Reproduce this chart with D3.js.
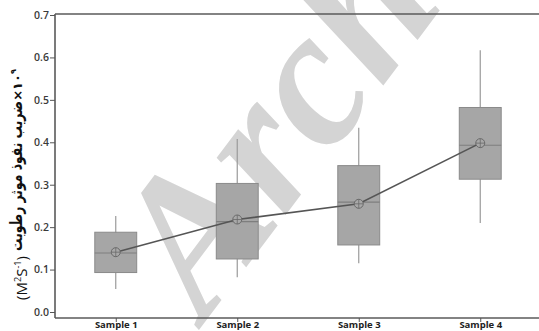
<!DOCTYPE html>
<html>
<head>
<meta charset="utf-8">
<script src="https://cdn.jsdelivr.net/npm/d3@7"></script>
<style>
  body { margin: 0; background: #fff; }
  svg { display: block; }
</style>
</head>
<body>
<div id="chart-area"></div>
<script>
// datos
var categories = ["Sample 1", "Sample 2", "Sample 3", "Sample 4"];
var whiskerLow = [0.054, 0.082, 0.115, 0.210];
var q1 = [0.093, 0.125, 0.158, 0.313];
var medians = [0.139, 0.213, 0.259, 0.393];
var q3 = [0.188, 0.303, 0.345, 0.482];
var whiskerHigh = [0.226, 0.408, 0.434, 0.617];
var means = [0.141, 0.218, 0.255, 0.398];
var yTicks = [0, 0.1, 0.2, 0.3, 0.4, 0.5, 0.6, 0.7];

var data = categories.map(function(c, i) {
    return { cat: c, lo: whiskerLow[i], q1: q1[i], med: medians[i], q3: q3[i], hi: whiskerHigh[i], mean: means[i] };
});

var W = 539, H = 331;
var margin = { top: 14, right: -2, bottom: 13, left: 55 };

var svg = d3.select("#chart-area").append("svg")
    .attr("width", W)
    .attr("height", H);

// marca de agua
svg.append("text")
    .attr("transform", "translate(205,322) rotate(-53)")
    .style("font-family", "'Liberation Serif', serif")
    .style("font-weight", "bold")
    .style("font-style", "italic")
    .style("font-size", "195px")
    .attr("fill", "#d4d4d4")
    .text("Archive");

var x = d3.scalePoint()
    .domain(categories)
    .range([margin.left, W - margin.right])
    .padding(0.5);

var y = d3.scaleLinear()
    .domain([0, 0.7])
    .range([312, 15]);

var boxW = x.step() * 0.345;
var yBottom = H - margin.bottom;

// cajas
var g = svg.append("g");
g.selectAll(".whisker")
    .data(data).enter().append("line")
    .attr("x1", function(d) { return x(d.cat); })
    .attr("x2", function(d) { return x(d.cat); })
    .attr("y1", function(d) { return y(d.lo); })
    .attr("y2", function(d) { return y(d.hi); })
    .attr("stroke", "#9a9a9a")
    .attr("stroke-width", 1.2);

g.selectAll(".box")
    .data(data).enter().append("rect")
    .attr("x", function(d) { return x(d.cat) - boxW / 2; })
    .attr("y", function(d) { return y(d.q3); })
    .attr("width", boxW)
    .attr("height", function(d) { return y(d.q1) - y(d.q3); })
    .attr("fill", "#a6a6a6")
    .attr("stroke", "#8a8a8a")
    .attr("stroke-width", 1);

g.selectAll(".median")
    .data(data).enter().append("line")
    .attr("x1", function(d) { return x(d.cat) - boxW / 2; })
    .attr("x2", function(d) { return x(d.cat) + boxW / 2; })
    .attr("y1", function(d) { return y(d.med); })
    .attr("y2", function(d) { return y(d.med); })
    .attr("stroke", "#7e7e7e")
    .attr("stroke-width", 1.2);

// linea de medias
var line = d3.line()
    .x(function(d) { return x(d.cat); })
    .y(function(d) { return y(d.mean); });

g.append("path")
    .datum(data)
    .attr("d", line)
    .attr("fill", "none")
    .attr("stroke", "#555")
    .attr("stroke-width", 1.6);

var sym = g.selectAll(".mean")
    .data(data).enter().append("g")
    .attr("transform", function(d) { return "translate(" + x(d.cat) + "," + y(d.mean) + ")"; });
sym.append("circle").attr("r", 4.5).attr("fill", "#a8a8a8").attr("stroke", "#6a6a6a").attr("stroke-width", 1);
sym.append("path").attr("d", "M-4.5,0H4.5M0,-4.5V4.5").attr("stroke", "#6a6a6a").attr("stroke-width", 0.8);

// marco
svg.append("line")
    .attr("x1", margin.left).attr("x2", W)
    .attr("y1", margin.top).attr("y2", margin.top)
    .attr("stroke", "#5a5a5a").attr("stroke-width", 1.6);

// ejes
var yAxis = svg.append("g")
    .attr("transform", "translate(" + margin.left + ",0)")
    .call(d3.axisLeft(y).tickValues(yTicks).tickFormat(d3.format(".1f")).tickSize(5).tickSizeOuter(0));
yAxis.select(".domain").attr("d", "M0," + margin.top + "V" + yBottom)
    .attr("stroke", "#5a5a5a").attr("stroke-width", 1.6);
yAxis.selectAll(".tick line").attr("stroke", "#555");
yAxis.selectAll("text")
    .attr("x", -6)
    .attr("fill", "#3a3a3a")
    .style("font-family", "'Open Sans', sans-serif")
    .style("font-weight", "600")
    .style("font-size", "10.5px");

var xAxis = svg.append("g")
    .attr("transform", "translate(0," + yBottom + ")")
    .call(d3.axisBottom(x).tickSize(4).tickSizeOuter(0));
xAxis.select(".domain").attr("d", "M" + margin.left + ",0H" + W)
    .attr("stroke", "#5a5a5a").attr("stroke-width", 1.6);
xAxis.selectAll(".tick line").attr("stroke", "#555");
xAxis.selectAll("text")
    .attr("y", 3)
    .attr("dy", "0.71em")
    .attr("fill", "#222")
    .style("font-family", "'Open Sans', sans-serif")
    .style("font-weight", "700")
    .style("font-size", "9.5px");

// etiqueta del eje Y (en tres piezas)
var labelX = 22;
var fa = svg.append("text")
    .attr("direction", "rtl")
    .style("font-family", "'DejaVu Sans', sans-serif")
    .style("font-weight", "bold")
    .style("font-size", "20px")
    .attr("fill", "#111")
    .text("ضریب نفوذ موثر رطوبت");
var len = fa.node().getComputedTextLength();
var fs = 20 * 150 / len;
fa.style("font-size", fs + "px")
    .attr("text-anchor", "middle")
    .attr("transform", "translate(" + labelX + ",176) rotate(-90) scale(1,1.35)");

var unit = svg.append("text")
    .attr("text-anchor", "middle")
    .attr("transform", "translate(" + (labelX + 5) + ",278) rotate(-90)")
    .style("font-family", "'Open Sans', sans-serif")
    .style("font-size", "15px")
    .attr("fill", "#111");
unit.append("tspan").text("(M");
unit.append("tspan").attr("dy", -6).style("font-size", "9px").text("2");
unit.append("tspan").attr("dy", 6).text("S");
unit.append("tspan").attr("dy", -6).style("font-size", "9px").text("-1");
unit.append("tspan").attr("dy", 6).text(")");

var mult = svg.append("text")
    .attr("text-anchor", "middle")
    .attr("transform", "translate(" + labelX + ",85) rotate(-90)")
    .style("font-family", "'DejaVu Sans', sans-serif")
    .style("font-weight", "bold")
    .style("font-size", "13px")
    .attr("fill", "#111");
mult.append("tspan").text("×۱۰");
mult.append("tspan").attr("dy", -6).style("font-size", "8px").text("۹");
</script>
</body>
</html>
